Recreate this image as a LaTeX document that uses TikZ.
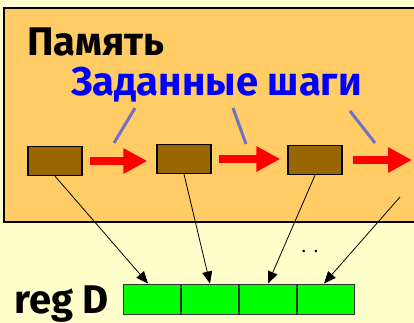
\documentclass[tikz,border=0pt]{standalone}
\usepackage{fontspec}
\setmainfont{Fira Sans}
\usetikzlibrary{arrows.meta,positioning}
\definecolor{bgyel}{RGB}{255,255,204}
\definecolor{memfill}{RGB}{255,204,102}
\definecolor{cellbrown}{RGB}{153,102,0}
\definecolor{calloutblue}{RGB}{112,112,200}
\tikzset{mbox/.style={draw=black,fill=cellbrown,line width=1.3pt,minimum width=54pt,minimum height=29pt,inner sep=0pt},
regcell/.style={draw=black!80,fill=green,line width=1pt,minimum width=57pt,minimum height=30pt,inner sep=0pt}}

\begin{document}
\begin{tikzpicture}[x=1pt,y=-1pt,stride/.style={draw=red,line width=8pt,-{Triangle[length=24pt,width=24pt]}},
	callout/.style={draw=calloutblue,line width=3pt},
	fetch/.style={draw=black,line width=0.8pt,-{Triangle[length=12pt,width=10pt]}},
	bigtext/.style={anchor=base west,inner sep=0pt,font=\fontsize{40}{44}\selectfont\bfseries}]
	\useasboundingbox[fill=bgyel] (0,0) rectangle (414,323);
	% memory area
	\draw[fill=memfill,line width=2pt] (4,8) rectangle (424,222);
	\node[bigtext] (mem) at (27,56) {Память};
	\node[bigtext,text=blue] (steps) at (71,96) {Заданные шаги};

	\node[mbox] (m1) at (55,161) {};
	\node[mbox] (m2) at (184,159) {};
	\node[mbox] (m3) at (315,160) {};
	\coordinate (m4) at (412,159);

	\draw[stride,shorten <=7pt,shorten >=9pt] (m1.east) -- (m2.west |- m1.east);
	\draw[stride,shorten <=7pt,shorten >=7pt] (m2.east) -- (m3.west |- m2.east);
	\draw[stride,shorten <=10pt] (m3.east) -- (m4 |- m3.east);

	\coordinate (s1) at (135,108); \coordinate (t1) at (114,143);
	\coordinate (s2) at (233,108); \coordinate (t2) at (246,144);
	\coordinate (s3) at (350,111); \coordinate (t3) at (375,143);
	\draw[callout] (s1) -- (t1);
	\draw[callout] (s2) -- (t2);
	\draw[callout] (s3) -- (t3);

	% register D
	\node[regcell] (r1) at (152,299) {};
	\node[regcell,right=0pt of r1] (r2) {};
	\node[regcell,right=0pt of r2] (r3) {};
	\node[regcell,right=0pt of r3] (r4) {};
	\node[bigtext] (regd) at (14,313) {reg D};
	\node[inner sep=0pt,font=\fontsize{14}{14}\selectfont\bfseries] (dots) at (310,251) {.\kern9pt.};

	\coordinate (c4) at (400,197);
	\draw[fetch] (m1.south) -- ([xshift=-4pt]r1.north);
	\draw[fetch] (m2.south) -- (r2.north);
	\draw[fetch] (m3.south) -- (r3.north);
	\draw[fetch] (c4) -- ([xshift=-2pt]r4.north);
\end{tikzpicture}
\end{document}
